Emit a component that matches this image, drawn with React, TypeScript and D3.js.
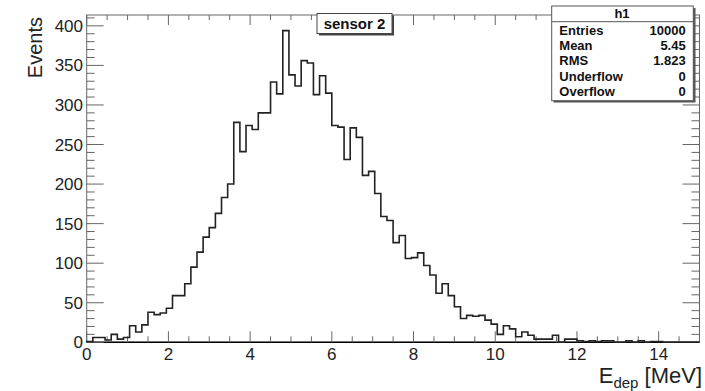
import React, { useMemo } from "react";
import * as d3 from "d3";

// bin contents, 100 bins from 0 to 15 MeV
const binCounts = [
    1, 6, 6, 3, 10, 4, 6, 21, 13, 22,
    38, 35, 37, 43, 59, 59, 74, 95, 114, 133,
    145, 163, 183, 200, 278, 241, 274, 269, 290, 290,
    329, 314, 394, 338, 324, 356, 353, 313, 337, 315,
    274, 272, 231, 271, 259, 211, 216, 188, 159, 154,
    126, 135, 106, 107, 113, 97, 85, 62, 74, 59,
    45, 30, 34, 33, 34, 28, 23, 10, 21, 17,
    7, 13, 9, 4, 4, 4, 9, 0, 4, 4,
    2, 1, 2, 1, 2, 2, 0, 0, 2, 0,
    2, 0, 1, 1, 0, 0, 0, 0, 0, 0,
];
const xRange = [0, 15];
const xTickLabels = [0, 2, 4, 6, 8, 10, 12, 14];
const yTickLabels = [0, 50, 100, 150, 200, 250, 300, 350, 400];
const statLabels = ["Entries", "Mean", "RMS", "Underflow", "Overflow"];
const statValues = ["10000", "5.45", "1.823", "0", "0"];
const histName = "h1";
const plotTitle = "sensor 2";

const width = 705;
const height = 391;
const left = 86.7;
const right = 699.5;
const top = 15;
const bottom = 342.3;
const font = "'Liberation Sans', Arial, sans-serif";
const axisColor = "#666";

export default function App() {
    const nBins = binCounts.length;
    const binW = (xRange[1] - xRange[0]) / nBins;

    const x = useMemo(() => d3.scaleLinear(xRange, [left, right]), []);
    const yMax = (d3.max(binCounts) as number) * 1.05;
    const y = useMemo(() => d3.scaleLinear([0, yMax], [bottom, top]), [yMax]);

    const pts: [number, number][] = [[xRange[0], 0]];
    binCounts.forEach((v, i) => {
        pts.push([xRange[0] + i * binW, v]);
        pts.push([xRange[0] + (i + 1) * binW, v]);
    });
    pts.push([xRange[1], 0]);
    const histPath = d3
        .line<[number, number]>()
        .x((d) => x(d[0]))
        .y((d) => y(d[1]))(pts);

    const xMinor = d3.range(0, 15.001, 0.5).filter((v) => v % 2 !== 0);
    const yMinor = d3.range(0, yMax, 10).filter((v) => v % 50 !== 0);
    const xMajor = xTickLabels;
    const yMajor = yTickLabels;

    const rowH = 15.2;

    return (
        <svg
            width={width}
            height={height}
            style={{ position: "absolute", top: 0, left: 0, background: "#fff" }}
        >
            {/* frame */}
            <rect
                x={left}
                y={top}
                width={right - left}
                height={bottom - top}
                fill="none"
                stroke={axisColor}
                strokeWidth={1}
            />
            <line x1={left} x2={right} y1={bottom} y2={bottom} stroke="#000" strokeWidth={1.5} />

            {/* x ticks bottom & top */}
            <g stroke={axisColor} strokeWidth={1}>
                {xMajor.map((v) => (
                    <React.Fragment key={"xM" + v}>
                        <line x1={x(v)} x2={x(v)} y1={bottom} y2={bottom - 11} />
                        <line x1={x(v)} x2={x(v)} y1={top} y2={top + 10} />
                    </React.Fragment>
                ))}
                {xMinor.map((v) => (
                    <React.Fragment key={"xm" + v}>
                        <line x1={x(v)} x2={x(v)} y1={bottom} y2={bottom - 6} />
                        <line x1={x(v)} x2={x(v)} y1={top} y2={top + 5} />
                    </React.Fragment>
                ))}
                {yMajor.map((v) => (
                    <React.Fragment key={"yM" + v}>
                        <line x1={left} x2={left + 17} y1={y(v)} y2={y(v)} />
                        <line x1={right} x2={right - 17} y1={y(v)} y2={y(v)} />
                    </React.Fragment>
                ))}
                {yMinor.map((v) => (
                    <React.Fragment key={"ym" + v}>
                        <line x1={left} x2={left + 8} y1={y(v)} y2={y(v)} />
                        <line x1={right} x2={right - 8} y1={y(v)} y2={y(v)} />
                    </React.Fragment>
                ))}
            </g>

            {/* tick labels */}
            <g fontFamily={font} fontSize={17} fill="#222">
                {xTickLabels.map((v) => (
                    <text key={"xl" + v} x={x(v)} y={360} textAnchor="middle">
                        {v}
                    </text>
                ))}
                {yTickLabels.map((v) => (
                    <text key={"yl" + v} x={83} y={y(v) + 6} textAnchor="end">
                        {v}
                    </text>
                ))}
            </g>

            {/* axis titles */}
            <text
                fontFamily={font}
                fontSize={20}
                fill="#222"
                textAnchor="end"
                transform={`translate(42,${top + 2}) rotate(-90)`}
            >
                Events
            </text>
            <text fontFamily={font} fontSize={22} fill="#222" textAnchor="end" x={702} y={383}>
                E<tspan fontSize={15} dy={5}>dep</tspan>
                <tspan dy={-5}> [MeV]</tspan>
            </text>

            {/* histogram */}
            <path d={histPath || ""} fill="none" stroke="#222" strokeWidth={1.6} />

            {/* title box */}
            <rect x={319} y={15.5} width={75} height={20} fill="#444" />
            <rect x={317} y={13.5} width={75} height={20} fill="#fff" stroke="#444" strokeWidth={1} />
            <text
                x={354.5}
                y={29}
                fontFamily={font}
                fontSize={15}
                fontWeight="bold"
                fill="#111"
                textAnchor="middle"
            >
                {plotTitle}
            </text>

            {/* stat box */}
            <rect x={553.5} y={8} width={142} height={94.5} fill="#555" />
            <rect x={551.7} y={6} width={141.6} height={94.7} fill="#fff" stroke="#555" strokeWidth={1} />
            <line x1={551.7} x2={693.3} y1={21.7} y2={21.7} stroke="#555" strokeWidth={1} />
            <g fontFamily={font} fontSize={13} fontWeight="bold" fill="#111">
                <text x={622} y={18} textAnchor="middle">
                    {histName}
                </text>
                {statLabels.map((s, i) => (
                    <React.Fragment key={s}>
                        <text x={559.3} y={35 + i * rowH}>
                            {s}
                        </text>
                        <text x={685.7} y={35 + i * rowH} textAnchor="end">
                            {statValues[i]}
                        </text>
                    </React.Fragment>
                ))}
            </g>
        </svg>
    );
}
